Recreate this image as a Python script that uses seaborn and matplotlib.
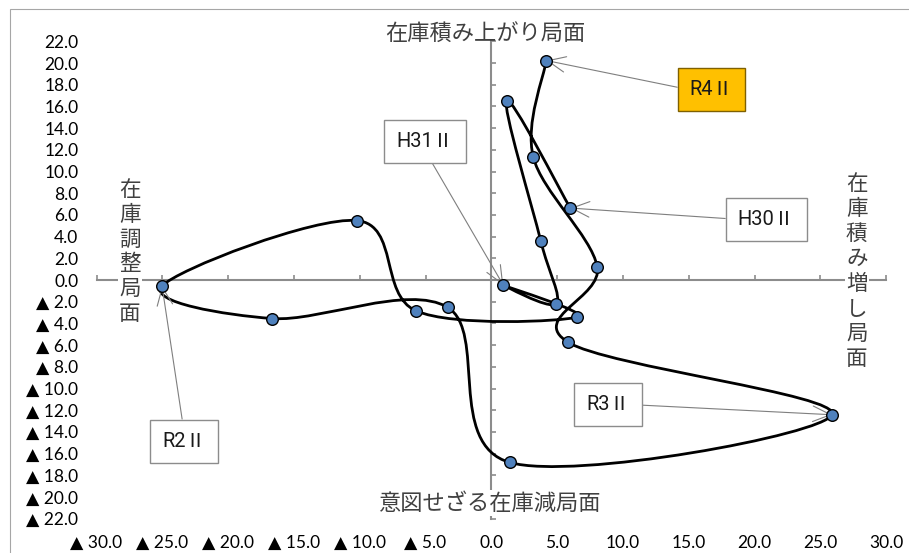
import numpy as np
import pandas as pd
import matplotlib
matplotlib.use("Agg")
import matplotlib.pyplot as plt
import seaborn as sns
from matplotlib.path import Path
from matplotlib.patches import PathPatch, Rectangle

# ---------------- data ----------------
quarters = ["H30Ⅱ", "H30Ⅲ", "H30Ⅳ", "H31Ⅰ", "H31Ⅱ", "R1Ⅲ", "R1Ⅳ", "R2Ⅰ",
            "R2Ⅱ", "R2Ⅲ", "R2Ⅳ", "R3Ⅰ", "R3Ⅱ", "R3Ⅲ", "R3Ⅳ", "R4Ⅰ", "R4Ⅱ"]
shipment_growth = [6.00, 1.17, 3.75, 4.92, 0.91, 6.53, -5.72, -10.21,
                   -25.02, -16.66, -3.31, 1.42, 25.89, 5.81, 8.05, 3.19, 4.18]
inventory_growth = [6.63, 16.54, 3.64, -2.17, -0.47, -3.42, -2.84, 5.48,
                    -0.56, -3.55, -2.53, -16.82, -12.42, -5.72, 1.22, 11.33, 20.23]

x_tick_values = [-30, -25, -20, -15, -10, -5, 0, 5, 10, 15, 20, 25, 30]
x_tick_labels = ["▲ 30.0", "▲ 25.0", "▲ 20.0", "▲ 15.0", "▲ 10.0", "▲ 5.0",
                 "0.0", "5.0", "10.0", "15.0", "20.0", "25.0", "30.0"]
y_tick_values = [-22, -20, -18, -16, -14, -12, -10, -8, -6, -4, -2, 0,
                 2, 4, 6, 8, 10, 12, 14, 16, 18, 20, 22]
y_tick_labels = ["▲ 22.0", "▲ 20.0", "▲ 18.0", "▲ 16.0", "▲ 14.0", "▲ 12.0",
                 "▲ 10.0", "▲ 8.0", "▲ 6.0", "▲ 4.0", "▲ 2.0", "0.0",
                 "2.0", "4.0", "6.0", "8.0", "10.0", "12.0", "14.0", "16.0",
                 "18.0", "20.0", "22.0"]

callout_quarters = ["R4Ⅱ", "H30Ⅱ", "H31Ⅱ", "R2Ⅱ", "R3Ⅱ"]

title_top = "在庫積み上がり局面"
title_bottom = "意図せざる在庫減局面"
title_left = "在庫調整局面"
title_right = "在庫積み増し局面"

# ---------------- style ----------------
sns.set_theme(style="white")
plt.rcParams["font.family"] = ["Lato", "DejaVu Sans"]
CJK = ["Noto Sans CJK JP", "DejaVu Sans"]
NARROW = ["Roboto", "Noto Sans CJK JP", "DejaVu Sans"]
AXIS_GRAY = "#8c8c8c"

df = pd.DataFrame({"quarter": quarters, "x": shipment_growth, "y": inventory_growth})

fig = plt.figure(figsize=(9.09, 5.53), dpi=100)
fig.patch.set_facecolor("white")
ax = fig.add_axes([96.5 / 909, 1 - 518.7 / 553, (886.1 - 96.5) / 909, (518.7 - 41.3) / 553])
ax.set_facecolor("white")

# smoothed connecting line (Bezier through the data points)
pts = df[["x", "y"]].to_numpy()
n = len(pts)
verts = [pts[0]]
codes = [Path.MOVETO]
for i in range(n - 1):
    p_prev = pts[max(i - 1, 0)]
    p0 = pts[i]
    p1 = pts[i + 1]
    p_next = pts[min(i + 2, n - 1)]
    verts += [p0 + (p1 - p_prev) / 6.0, p1 - (p_next - p0) / 6.0, p1]
    codes += [Path.CURVE4] * 3
ax.add_patch(PathPatch(Path(verts, codes), facecolor="none", edgecolor="black",
                       lw=2.0, zorder=3, joinstyle="round", capstyle="round"))

sns.scatterplot(data=df, x="x", y="y", ax=ax, s=70, color="#4F81BD",
                edgecolor="black", linewidth=1.0, zorder=6, legend=False)

ax.set_xlim(-30, 30)
ax.set_ylim(-22, 22)
ax.set_xlabel("")
ax.set_ylabel("")
for s in ["top", "right"]:
    ax.spines[s].set_visible(False)
for s in ["left", "bottom"]:
    ax.spines[s].set_position(("data", 0))
    ax.spines[s].set_color(AXIS_GRAY)
    ax.spines[s].set_linewidth(1.5)
    ax.spines[s].set_zorder(1)
ax.set_xticks(x_tick_values)
ax.set_yticks(y_tick_values)
ax.tick_params(direction="in", length=3.5, width=1.2, color=AXIS_GRAY,
               bottom=True, left=True, labelbottom=False, labelleft=False)

# tick labels on the outer edges
secx = ax.secondary_xaxis("bottom")
secx.set_xticks(x_tick_values, labels=x_tick_labels)
secx.spines["bottom"].set_visible(False)
secx.tick_params(length=0, pad=12, labelsize=12.5, labelcolor="black")
secy = ax.secondary_yaxis("left")
secy.set_yticks(y_tick_values, labels=y_tick_labels)
secy.spines["left"].set_visible(False)
secy.tick_params(length=0, pad=13, labelsize=12.5, labelcolor="black")

# callouts
callout_layout = {
    "R4Ⅱ": ((16.74, 17.53), (0.0, 0.5), "#FFC000", "#7F6000"),
    "H30Ⅱ": ((20.9, 5.59), (0.0, 0.5), "white", "#8c8c8c"),
    "H31Ⅱ": ((-5.04, 12.8), (0.5, 0.0), "white", "#8c8c8c"),
    "R2Ⅱ": ((-23.35, -14.85), (0.5, 1.0), "white", "#8c8c8c"),
    "R3Ⅱ": ((8.89, -11.48), (1.0, 0.5), "white", "#8c8c8c"),
}
for q in callout_quarters:
    row = df[df["quarter"] == q].iloc[0]
    (bx, by), rel, face, edge = callout_layout[q]
    ax.annotate(q, xy=(row["x"], row["y"]), xytext=(bx, by), textcoords="data",
                ha="center", va="center", fontsize=14.5, family=NARROW, color="#1a1a1a",
                bbox=dict(boxstyle="square,pad=0.6", fc=face, ec=edge, lw=1.0),
                arrowprops=dict(arrowstyle="->,head_length=0.8,head_width=0.35",
                                color="#7f7f7f", lw=0.8, shrinkA=0, shrinkB=0,
                                relpos=rel, mutation_scale=16),
                zorder=4)

# quadrant titles
fig.text(485.5 / 909, 1 - 33 / 553, title_top, ha="center", va="center",
         fontsize=16, family=CJK, color="#404040")
fig.text(489 / 909, 1 - 503 / 553, title_bottom, ha="center", va="center",
         fontsize=16, family=CJK, color="#404040",
         bbox=dict(boxstyle="square,pad=0.05", fc="white", ec="none"))
fig.text(130 / 909, 1 - 252 / 553, "\n".join(title_left), ha="center", va="center",
         fontsize=15.5, family=CJK, color="#404040", linespacing=1.17,
         bbox=dict(boxstyle="square,pad=0.05", fc="white", ec="none"))
fig.text(856.7 / 909, 1 - 271.5 / 553, "\n".join(title_right), ha="center", va="center",
         fontsize=15.5, family=CJK, color="#404040", linespacing=1.17,
         bbox=dict(boxstyle="square,pad=0.05", fc="white", ec="none"))

# outer chart frame
fig.add_artist(Rectangle((9.5 / 909, -0.2), 1.0, 0.2 + 1 - 8.5 / 553,
                         transform=fig.transFigure, fill=False,
                         ec="#a6a6a6", lw=0.8))

fig.savefig("out.png", dpi=100, facecolor="white")
